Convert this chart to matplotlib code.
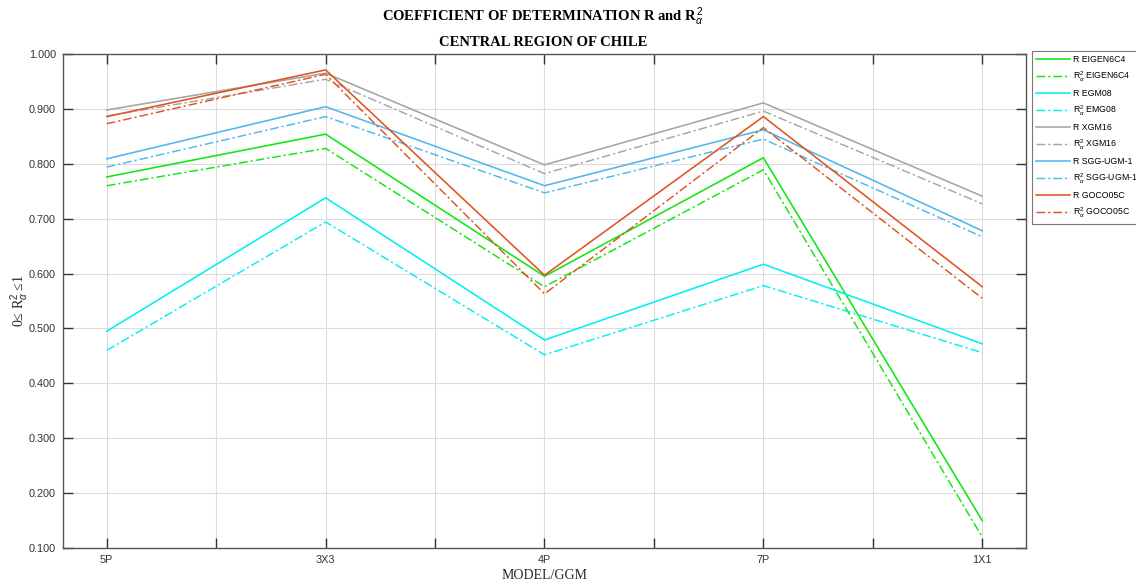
import matplotlib
matplotlib.use("Agg")
import matplotlib.pyplot as plt
import numpy as np

# Grid models on the x axis
models = ["5P", "3X3", "4P", "7P", "1X1"]

# R and adjusted R^2 per global geopotential model
r_eigen6c4 = [0.776, 0.854, 0.595, 0.811, 0.150]
r2_eigen6c4 = [0.760, 0.828, 0.576, 0.789, 0.120]
r_egm08 = [0.495, 0.738, 0.479, 0.617, 0.472]
r2_egm08 = [0.460, 0.694, 0.452, 0.578, 0.456]
r_xgm16 = [0.898, 0.965, 0.798, 0.911, 0.741]
r2_xgm16 = [0.887, 0.954, 0.782, 0.896, 0.727]
r_sgg = [0.809, 0.904, 0.760, 0.862, 0.678]
r2_sgg = [0.794, 0.886, 0.747, 0.845, 0.667]
r_goco05c = [0.886, 0.971, 0.597, 0.886, 0.576]
r2_goco05c = [0.873, 0.963, 0.563, 0.866, 0.555]

series = [
    ("R EIGEN6C4", r_eigen6c4, "#10e610", "-"),
    (r"R$^2_\alpha$ EIGEN6C4", r2_eigen6c4, "#10e610", "-."),
    ("R EGM08", r_egm08, "#00f0f0", "-"),
    (r"R$^2_\alpha$ EMG08", r2_egm08, "#00f0f0", "-."),
    ("R XGM16", r_xgm16, "#a5a5a5", "-"),
    (r"R$^2_\alpha$ XGM16", r2_xgm16, "#a5a5a5", "-."),
    ("R SGG-UGM-1", r_sgg, "#4db8ee", "-"),
    (r"R$^2_\alpha$ SGG-UGM-1", r2_sgg, "#4db8ee", "-."),
    ("R GOCO05C", r_goco05c, "#e0531f", "-"),
    (r"R$^2_\alpha$ GOCO05C", r2_goco05c, "#e0531f", "-."),
]

plt.rcParams["font.family"] = ["Liberation Sans", "DejaVu Sans"]
plt.rcParams["mathtext.fontset"] = "custom"
plt.rcParams["mathtext.rm"] = "Liberation Sans"
plt.rcParams["mathtext.it"] = "Liberation Sans:italic"

fig = plt.figure(figsize=(11.36, 5.83), dpi=100)
ax = fig.add_axes([63 / 1136, 35 / 583, (1026 - 63) / 1136, (548 - 54) / 583])

x = np.arange(1, len(models) + 1)
for label, vals, color, ls in series:
    if ls == "-.":
        ax.plot(x, vals, color=color, lw=1.05, linestyle=(0, (6, 2, 1.5, 2)), label=label)
    else:
        ax.plot(x, vals, color=color, lw=1.15, linestyle="-", label=label)

ax.set_xlim(0.8, 5.2)
ax.set_ylim(0.1, 1.0)
xt = np.arange(1, 5.01, 0.5)
ax.set_xticks(xt)
ax.set_xticklabels([models[int(t) - 1] if float(t).is_integer() else "" for t in xt])
ax.set_yticks(np.arange(0.1, 1.001, 0.1))
ax.set_yticklabels([f"{v:.3f}" for v in np.arange(0.1, 1.001, 0.1)])

ax.tick_params(direction="in", length=7, width=1, colors="#333333",
               labelsize=7.8, top=True, right=True, pad=5)
for s in ax.spines.values():
    s.set_color("#555555")
    s.set_linewidth(1.0)
ax.grid(True, color="#dcdcdc", lw=0.8)
ax.set_axisbelow(True)

serif = ["Liberation Serif", "DejaVu Serif"]
ax.set_xlabel("MODEL/GGM", family=serif, fontsize=10, color="#262626")
ax.xaxis.set_label_coords(0.5, -(569 - 548) / 494)
ax.set_ylabel("0\u2264 R$^2_\\alpha$ \u22641", family=serif, fontsize=10,
              color="#262626")
ax.yaxis.set_label_coords(-(63 - 31) / 963, 0.5)

fig.text(0.478, 1 - 17 / 583, r"COEFFICIENT OF DETERMINATION R and R$^{\,2}_{\alpha}$",
         ha="center", va="center", family=serif, fontweight="bold", fontsize=10.5)
fig.text(0.478, 1 - 43 / 583, "CENTRAL REGION OF CHILE", ha="center", va="center",
         family=serif, fontweight="bold", fontsize=10.5)

leg = fig.legend(loc="upper left", bbox_to_anchor=(1032 / 1136, 1 - 51 / 583),
                 fontsize=6.3, frameon=True, fancybox=False, handlelength=3.9,
                 handletextpad=0.35, labelspacing=0.62, borderaxespad=0,
                 borderpad=0.45)
leg.get_frame().set_edgecolor("#555555")
leg.get_frame().set_linewidth(0.8)

fig.savefig("out.png", dpi=100)
